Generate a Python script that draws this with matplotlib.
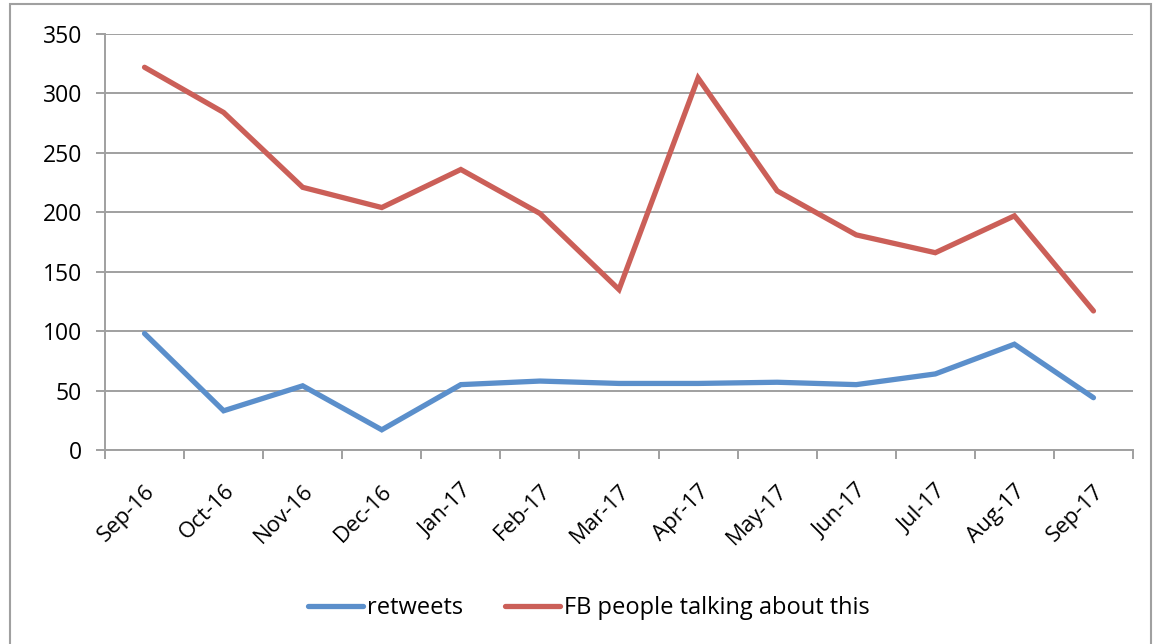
import matplotlib.pyplot as plt
from matplotlib.patches import Rectangle
import numpy as np

plt.rcParams['font.family'] = ['Open Sans', 'DejaVu Sans']

# data
months = ['Sep-16', 'Oct-16', 'Nov-16', 'Dec-16', 'Jan-17', 'Feb-17', 'Mar-17',
          'Apr-17', 'May-17', 'Jun-17', 'Jul-17', 'Aug-17', 'Sep-17']
retweets = [98, 33, 54, 17, 55, 58, 56, 56, 57, 55, 64, 89, 44]
fb_talking = [322, 284, 221, 204, 236, 199, 135, 313, 218, 181, 166, 197, 117]

fig = plt.figure(figsize=(11.54, 6.44), dpi=100)
ax = fig.add_axes([105/1154, 1 - 450/644, (1133-105)/1154, (450-34)/644])

grey = '#a0a0a0'

# outer chart frame
fig.patches.append(Rectangle((10/1154, -0.05), (1151-10)/1154, 1 - 4/644 + 0.05,
                             transform=fig.transFigure, fill=False,
                             edgecolor=grey, linewidth=1.5))

x = np.arange(len(months))
ax.plot(x, retweets, color='#5B8FCB', lw=3.8, solid_capstyle='round',
        solid_joinstyle='miter', label='retweets')
ax.plot(x, fb_talking, color='#CB5F58', lw=3.8, solid_capstyle='round',
        solid_joinstyle='miter', label='FB people talking about this')

ax.set_xlim(-0.5, len(months) - 0.5)
ax.set_ylim(0, 350)
ax.set_yticks(range(0, 351, 50))
ax.yaxis.grid(True, color=grey, lw=1.4)
ax.set_axisbelow(True)

# category ticks sit between the points
ax.set_xticks(np.arange(-0.5, len(months), 1.0))
ax.set_xticklabels([])
ax.set_xticks(x, minor=True)
ax.set_xticklabels(months, minor=True, rotation=45, ha='right',
                   rotation_mode='anchor', fontsize=16)
ax.tick_params(axis='x', which='major', length=6.5, width=1.4, color=grey)
ax.tick_params(axis='x', which='minor', length=0, pad=22)
ax.tick_params(axis='y', length=6.5, width=1.4, color=grey, labelsize=16.5, pad=10)

for s in ['top', 'right']:
    ax.spines[s].set_visible(False)
for s in ['left', 'bottom']:
    ax.spines[s].set_color(grey)
    ax.spines[s].set_linewidth(1.4)

fig.legend(loc='center', bbox_to_anchor=(589/1154, 1 - 608/644), ncol=2,
           frameon=False, fontsize=17, handlelength=2.3, handletextpad=0.17,
           columnspacing=1.8)

plt.savefig('out.png', dpi=100)
